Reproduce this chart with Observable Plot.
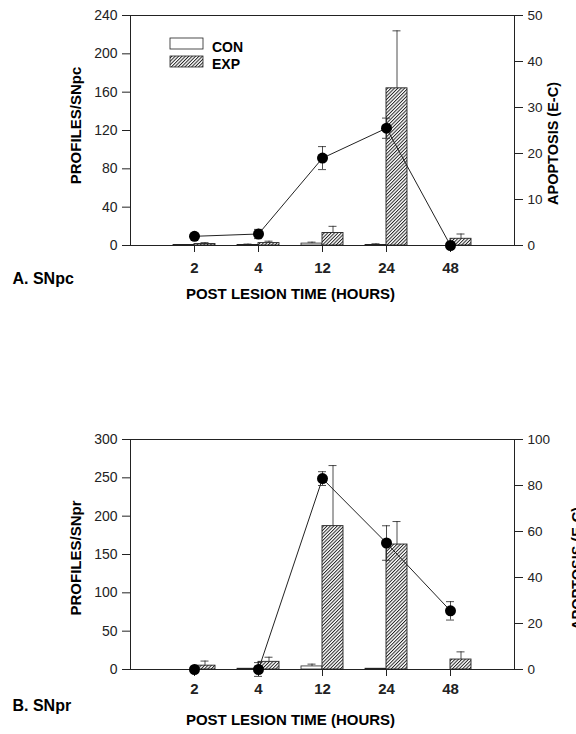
<!DOCTYPE html>
<html><head><meta charset="utf-8">
<script src="https://cdn.jsdelivr.net/npm/d3@7"></script>
<script src="https://cdn.jsdelivr.net/npm/@observablehq/plot@0.6"></script>
<style>
body{margin:0;background:#fff;}
#wrap{width:576px;height:734px;position:relative;overflow:hidden;background:#fff;}
#wrap svg{display:block;}
#wrap g[aria-label="x-axis tick label"] text{font-weight:bold;font-size:15px;}
</style></head><body><div id="wrap"></div>
<script>
// Categories (post lesion time, hours)
const hours = ["2","4","12","24","48"];

// Panel A: SNpc
const conA     = [0.5, 0.5, 2, 0.5, 0];
const conAErr  = [0.5, 1, 1.5, 1.3, 0];
const expA     = [1.5, 2.5, 13, 164, 7];
const expAErr  = [1.5, 2, 7, 60, 5];
const apopA    = [2, 2.5, 19, 25.5, 0];
const apopAErr = [0, 1, 2.5, 2.2, 0];
const yTicksA  = [0, 40, 80, 120, 160, 200, 240];
const rTicksA  = [0, 10, 20, 30, 40, 50];

// Panel B: SNpr
const conB     = [0, 1, 4, 1, 0];
const conBErr  = [0, 0, 3, 0, 0];
const expB     = [5, 10, 187, 163, 13];
const expBErr  = [6, 6, 79, 30, 10];
const apopB    = [0, 0, 83, 55, 25.5];
const apopBErr = [0, 3, 3, 7.5, 4];
const yTicksB  = [0, 50, 100, 150, 200, 250, 300];
const rTicksB  = [0, 20, 40, 60, 80, 100];

const font = "'Liberation Sans', Arial, Helvetica, sans-serif";
const ink = "#222";

function panel(p) {
  const k = p.yMax / p.rMax;
  const rows = hours.map((h, i) => ({
    h,
    con: p.con[i], conTop: p.con[i] + p.conErr[i], conErr: p.conErr[i],
    exp: p.exp[i], expTop: p.exp[i] + p.expErr[i], expErr: p.expErr[i],
    apop: p.apop[i] * k,
    apopLo: (p.apop[i] - p.apopErr[i]) * k,
    apopHi: (p.apop[i] + p.apopErr[i]) * k,
    apopErr: p.apopErr[i]
  }));
  const conE = rows.filter(d => d.conErr > 0);
  const expE = rows.filter(d => d.expErr > 0);
  const apE = rows.filter(d => d.apopErr > 0);
  const svg = Plot.plot({
    width: 576, height: 367,
    marginLeft: 130, marginRight: 62, marginTop: p.marginTop, marginBottom: p.marginBottom,
    style: {fontFamily: font, fontSize: "14px", color: ink, background: "white", overflow: "visible"},
    x: {type: "band", domain: hours, paddingInner: 0, paddingOuter: 0.5, axis: null},
    y: {domain: [0, p.yMax], axis: null},
    marks: [
      Plot.frame({stroke: ink, strokeWidth: 1}),
      Plot.axisY({ticks: p.yTicks, tickSize: 8, tickPadding: 5, label: null, fontSize: 14}),
      Plot.axisY({anchor: "right", ticks: p.rTicks.map(t => t * k), tickFormat: d => String(Math.round(d / k)),
                  tickSize: 8, tickPadding: 5, label: null, fontSize: 13.5}),
      Plot.axisX({tickSize: 7, tickPadding: p.xPad, label: null, fontSize: 15, fontWeight: "bold"}),
      // control bars
      Plot.barY(rows, {x: "h", y: "con", fill: "white", stroke: ink, strokeWidth: 0.8, insetLeft: 11, insetRight: 32}),
      Plot.ruleX(conE, {x: "h", y1: "con", y2: "conTop", dx: -10.5, stroke: ink, strokeWidth: 0.8}),
      Plot.tickY(conE, {x: "h", y: "conTop", insetLeft: 17.5, insetRight: 38.5, stroke: ink, strokeWidth: 0.8}),
      // experimental bars
      Plot.barY(rows, {x: "h", y: "exp", fill: `url(#${p.id}-hatch)`, stroke: ink, strokeWidth: 0.9, insetLeft: 32, insetRight: 11}),
      Plot.ruleX(expE, {x: "h", y1: "exp", y2: "expTop", dx: 10.5, stroke: ink, strokeWidth: 0.8}),
      Plot.tickY(expE, {x: "h", y: "expTop", insetLeft: 38.5, insetRight: 17.5, stroke: ink, strokeWidth: 0.8}),
      // apoptosis line
      Plot.line(rows, {x: "h", y: "apop", stroke: ink, strokeWidth: 1}),
      Plot.ruleX(apE, {x: "h", y1: "apopLo", y2: "apopHi", stroke: ink, strokeWidth: 0.8}),
      Plot.tickY(apE, {x: "h", y: "apopHi", insetLeft: 28, insetRight: 28, stroke: ink, strokeWidth: 0.8}),
      Plot.tickY(apE, {x: "h", y: "apopLo", insetLeft: 28, insetRight: 28, stroke: ink, strokeWidth: 0.8}),
      Plot.dot(rows, {x: "h", y: "apop", r: 5.5, fill: "#000", stroke: "none"}),
      // labels
      Plot.text([p.yLabel], {text: d => d, frameAnchor: "left", dx: -54, dy: p.yLabelDy, rotate: -90,
                 textAnchor: "middle", fontWeight: "bold", fontSize: 15, fill: "#000"}),
      Plot.text(["APOPTOSIS (E-C)"], {text: d => d, frameAnchor: "right", dx: p.rLabelDx, dy: p.rLabelDy, rotate: -90,
                 textAnchor: "middle", fontWeight: "bold", fontSize: 14.5, fill: "#000"}),
      Plot.text(["POST LESION TIME (HOURS)"], {text: d => d, frameAnchor: "bottom-left", dx: 160, dy: p.xLabelDy,
                 textAnchor: "middle", fontWeight: "bold", fontSize: 15, fill: "#000"}),
      Plot.text([p.panelLabel], {text: d => d, frameAnchor: "bottom-left", dx: -118, dy: p.panelLabelDy,
                 textAnchor: "start", fontWeight: "bold", fontSize: 16, fill: "#000"})
    ]
  });
  d3.select(svg).insert("defs", ":first-child").html(
    `<pattern id="${p.id}-hatch" patternUnits="userSpaceOnUse" width="2.4" height="2.4" patternTransform="rotate(45)">
       <rect width="2.4" height="2.4" fill="white"/>
       <line x1="0.5" y1="0" x2="0.5" y2="2.4" stroke="#111" stroke-width="0.9"/>
     </pattern>`);
  return svg;
}

const wrap = document.getElementById("wrap");
const svgA = panel({
  id: "pa", con: conA, conErr: conAErr, exp: expA, expErr: expAErr, apop: apopA, apopErr: apopAErr,
  yMax: 240, rMax: 50, yTicks: yTicksA, rTicks: rTicksA, marginTop: 15, marginBottom: 122, xPad: 10,
  yLabel: "PROFILES/SNpc", yLabelDy: -5, rLabelDx: 39, rLabelDy: 13, xLabelDy: 53,
  panelLabel: "A. SNpc", panelLabelDy: 38
});
wrap.appendChild(svgA);
// legend
const lg = d3.select(svgA).append("g").attr("font-family", font).attr("font-weight", "bold")
  .attr("font-size", 14).attr("text-anchor", "start").attr("fill", "#000");
lg.append("rect").attr("x", 170).attr("y", 38).attr("width", 33).attr("height", 11).attr("fill", "white").attr("stroke", ink).attr("stroke-width", 0.8);
lg.append("text").attr("x", 212).attr("y", 47).attr("dy", "0.35em").text("CON");
lg.append("rect").attr("x", 170).attr("y", 56).attr("width", 33).attr("height", 11).attr("fill", "url(#pa-hatch)").attr("stroke", ink).attr("stroke-width", 0.8);
lg.append("text").attr("x", 212).attr("y", 64).attr("dy", "0.35em").text("EXP");

const svgB = panel({
  id: "pb", con: conB, conErr: conBErr, exp: expB, expErr: expBErr, apop: apopB, apopErr: apopBErr,
  yMax: 300, rMax: 100, yTicks: yTicksB, rTicks: rTicksB, marginTop: 72, marginBottom: 65, xPad: 7,
  yLabel: "PROFILES/SNpr", yLabelDy: 3.5, rLabelDx: 63, rLabelDy: 14, xLabelDy: 55,
  panelLabel: "B. SNpr", panelLabelDy: 41
});
wrap.appendChild(svgB);
</script>
</body></html>
